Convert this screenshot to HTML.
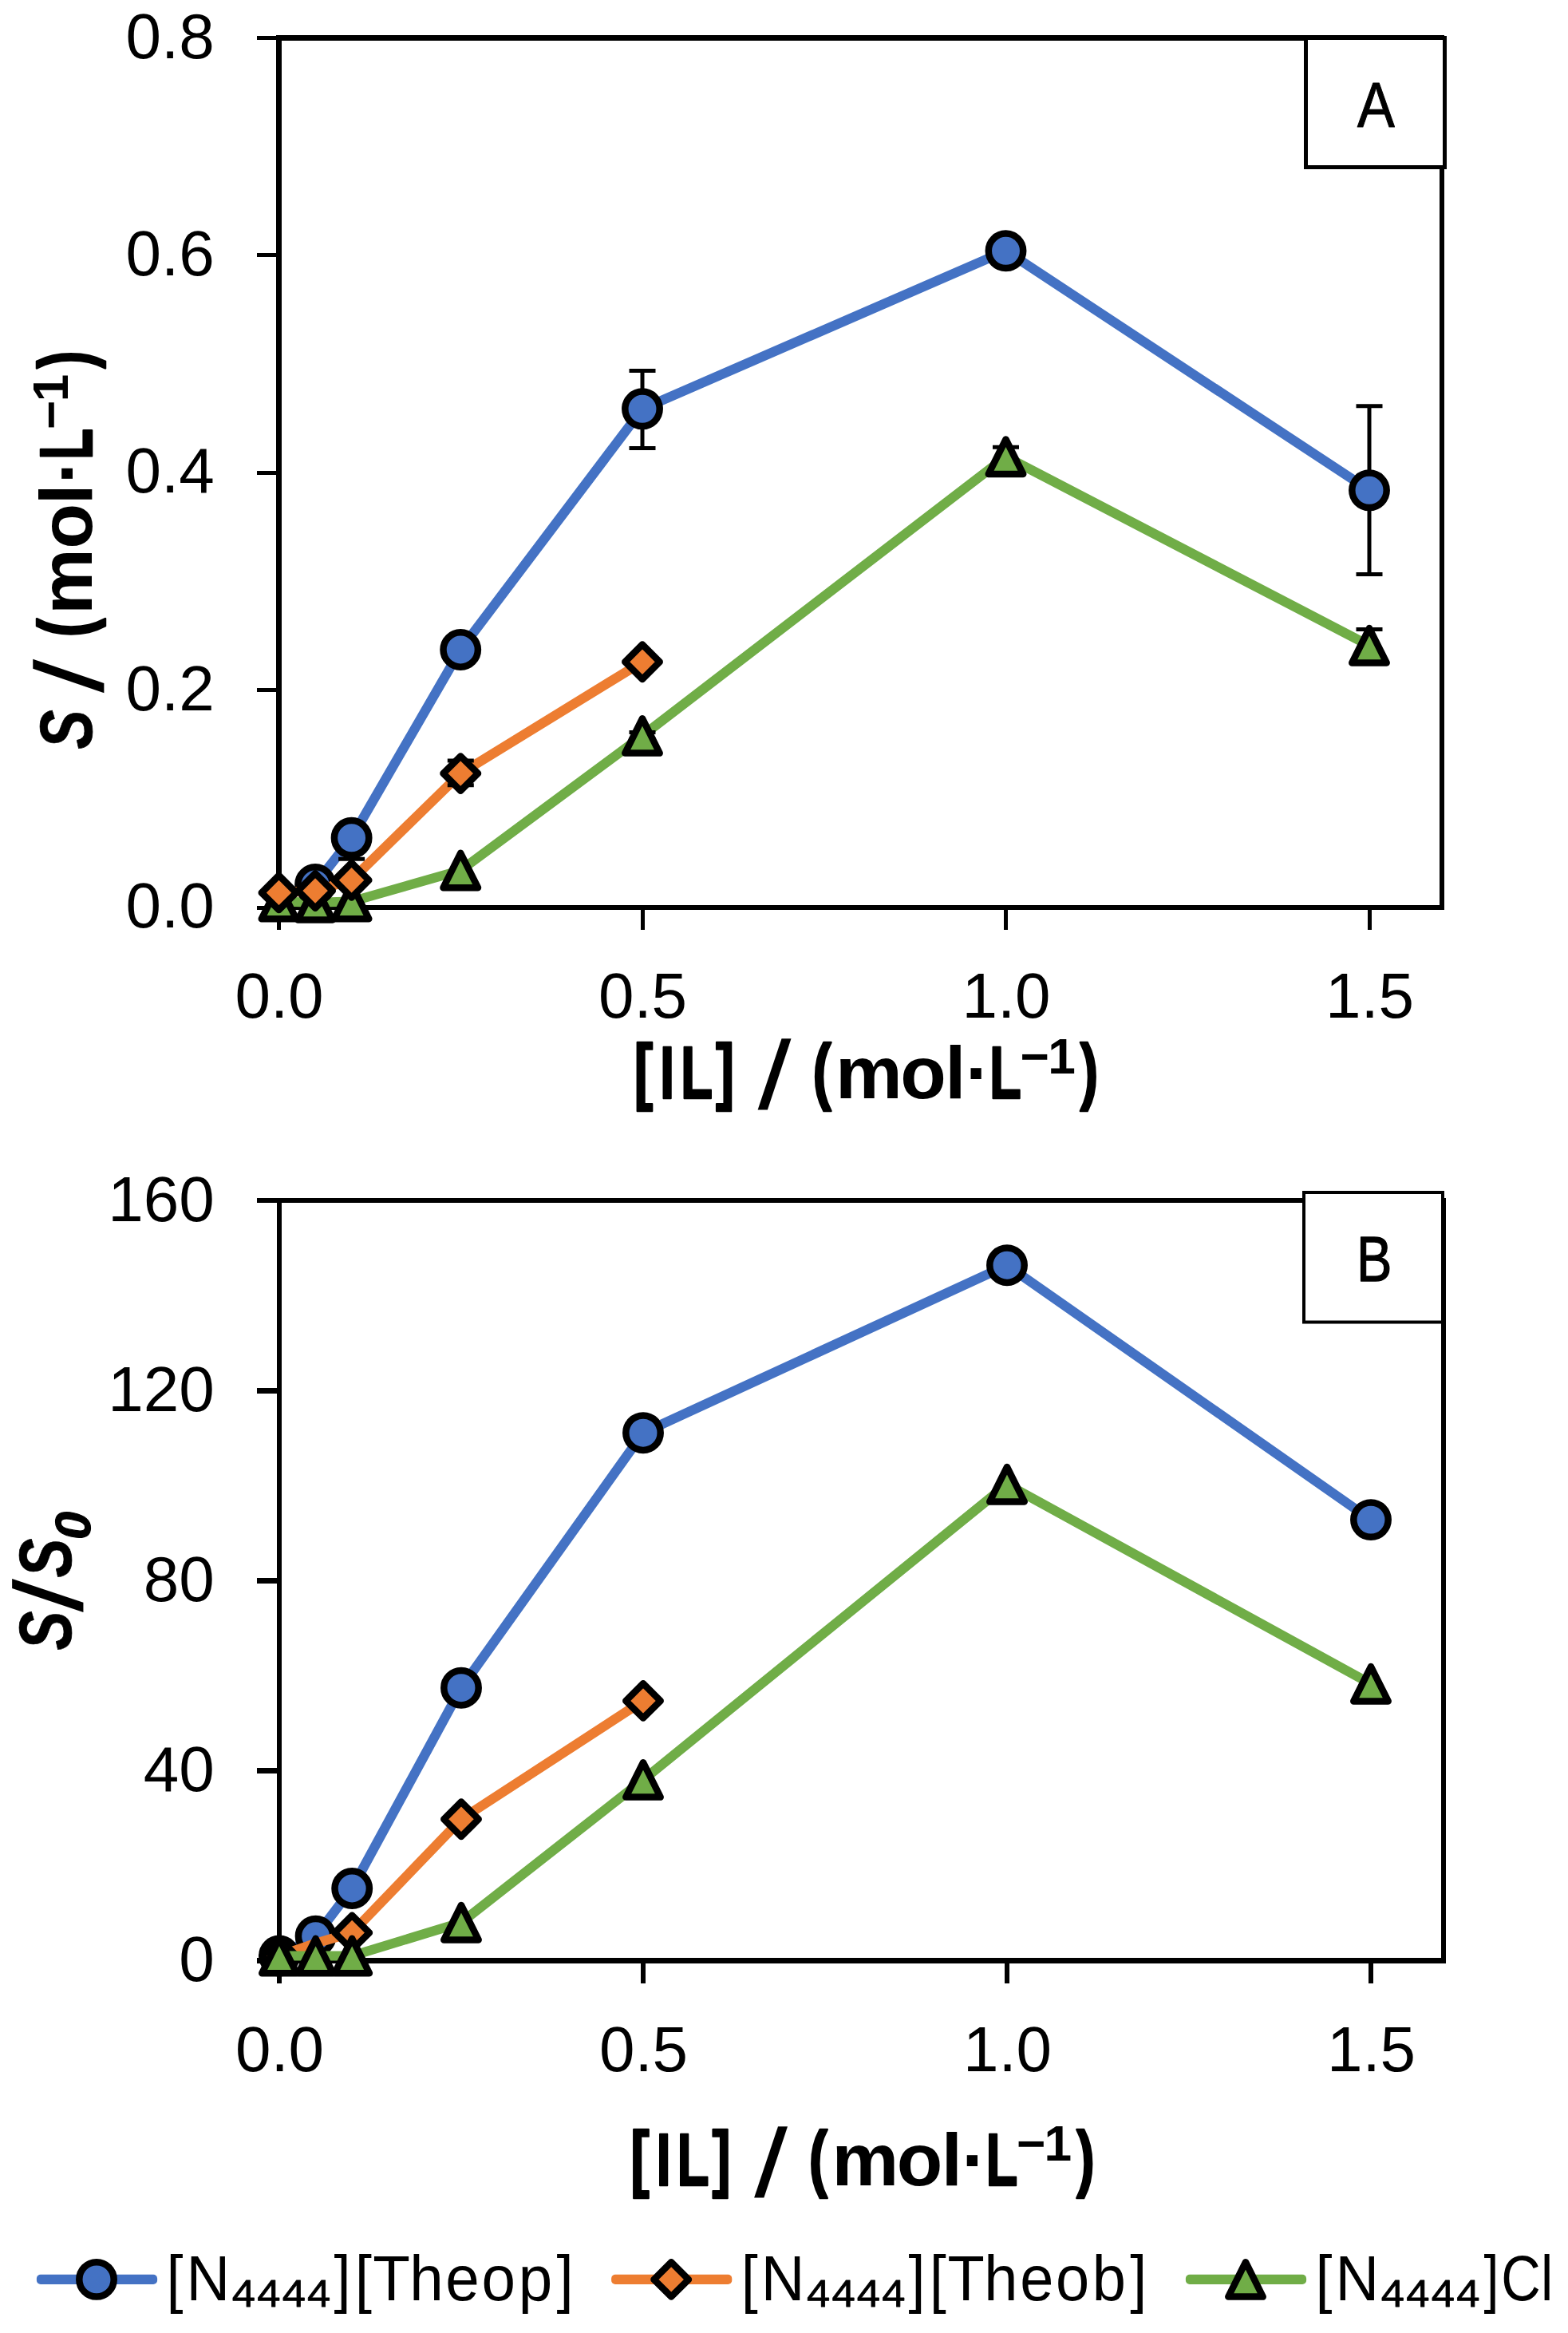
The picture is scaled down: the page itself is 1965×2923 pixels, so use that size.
<!DOCTYPE html>
<html><head><meta charset="utf-8"><title>Solubility charts</title>
<style>html,body{margin:0;padding:0;background:#fff}svg{display:block}
text{font-family:"Liberation Sans",sans-serif;fill:#000;font-kerning:none}</style></head>
<body><svg width="1965" height="2923" viewBox="0 0 1965 2923">
<rect width="1965" height="2923" fill="#fff"/>
<!-- chart A -->
<path d="M346 44H353V1140H346ZM346 44H1810V51H346ZM1804 44H1810V1140H1804ZM346 1134H1810V1140H346ZM347 1139H352V1165H347ZM802.5 1139H807.5V1165H802.5ZM1258 1139H1263V1165H1258ZM1713.5 1139H1718.5V1165H1713.5ZM322 45H347V50H322ZM322 317H347V322H322ZM322 589.5H347V594.5H322ZM322 862H347V867H322ZM322 1134.5H347V1139.5H322Z" fill="#000" shape-rendering="crispEdges"/>
<path d="M349.5 1129.5L395.1 1130.7L440.6 1129.5L577.2 1090.5L805.0 921.9L1260.5 572.2L1716.0 808.8" fill="none" stroke="#70AD47" stroke-width="12.1" stroke-linejoin="round" stroke-linecap="butt"/>
<path d="M805.0 917.6V926.2M788.5 917.6H821.5M788.5 926.2H821.5" fill="none" stroke="#000" stroke-width="5.0"/>
<path d="M1260.5 560.2V584.0M1244.0 560.2H1277.0M1244.0 584.0H1277.0" fill="none" stroke="#000" stroke-width="5.0"/>
<path d="M1716.0 788.5V829.0M1699.5 788.5H1732.5M1699.5 829.0H1732.5" fill="none" stroke="#000" stroke-width="5.0"/>
<path d="M349.5 1107.8L371.2 1151.2L327.8 1151.2Z" fill="#70AD47" stroke="#000" stroke-width="8.5" stroke-linejoin="round"/>
<path d="M395.1 1109.0L416.8 1152.4L373.4 1152.4Z" fill="#70AD47" stroke="#000" stroke-width="8.5" stroke-linejoin="round"/>
<path d="M440.6 1107.8L462.3 1151.2L418.9 1151.2Z" fill="#70AD47" stroke="#000" stroke-width="8.5" stroke-linejoin="round"/>
<path d="M577.2 1068.8L599.0 1112.2L555.5 1112.2Z" fill="#70AD47" stroke="#000" stroke-width="8.5" stroke-linejoin="round"/>
<path d="M805.0 900.2L826.7 943.6L783.3 943.6Z" fill="#70AD47" stroke="#000" stroke-width="8.5" stroke-linejoin="round"/>
<path d="M1260.5 550.5L1282.2 593.9L1238.8 593.9Z" fill="#70AD47" stroke="#000" stroke-width="8.5" stroke-linejoin="round"/>
<path d="M1716.0 787.1L1737.7 830.5L1694.3 830.5Z" fill="#70AD47" stroke="#000" stroke-width="8.5" stroke-linejoin="round"/>
<path d="M395.1 1108.0L440.6 1049.8L577.2 814.0L805.0 512.3L1260.5 314.3L1716.0 614.3" fill="none" stroke="#4472C4" stroke-width="12.1" stroke-linejoin="round" stroke-linecap="butt"/>
<path d="M440.6 1040.0V1076.3M424.1 1076.3H457.1" fill="none" stroke="#000" stroke-width="5.0"/>
<path d="M805.0 464.4V561.4M788.5 464.4H821.5M788.5 561.4H821.5" fill="none" stroke="#000" stroke-width="5.0"/>
<path d="M1716.0 508.7V719.4M1699.5 508.7H1732.5M1699.5 719.4H1732.5" fill="none" stroke="#000" stroke-width="5.0"/>
<circle cx="395.1" cy="1108.0" r="21.7" fill="#4472C4" stroke="#000" stroke-width="8.5"/>
<circle cx="440.6" cy="1049.8" r="21.7" fill="#4472C4" stroke="#000" stroke-width="8.5"/>
<circle cx="577.2" cy="814.0" r="21.7" fill="#4472C4" stroke="#000" stroke-width="8.5"/>
<circle cx="805.0" cy="512.3" r="21.7" fill="#4472C4" stroke="#000" stroke-width="8.5"/>
<circle cx="1260.5" cy="314.3" r="21.7" fill="#4472C4" stroke="#000" stroke-width="8.5"/>
<circle cx="1716.0" cy="614.3" r="21.7" fill="#4472C4" stroke="#000" stroke-width="8.5"/>
<path d="M349.5 1118.4L395.1 1116.0L440.6 1102.7L577.2 969.1L805.0 829.3" fill="none" stroke="#ED7D31" stroke-width="12.1" stroke-linejoin="round" stroke-linecap="butt"/>
<path d="M577.2 953.0V983.7M560.8 953.0H593.8M560.8 983.7H593.8" fill="none" stroke="#000" stroke-width="5.0"/>
<path d="M349.5 1096.7L371.2 1118.4L349.5 1140.1L327.8 1118.4Z" fill="#ED7D31" stroke="#000" stroke-width="8.5" stroke-linejoin="round"/>
<path d="M395.1 1094.3L416.8 1116.0L395.1 1137.7L373.4 1116.0Z" fill="#ED7D31" stroke="#000" stroke-width="8.5" stroke-linejoin="round"/>
<path d="M440.6 1081.0L462.3 1102.7L440.6 1124.4L418.9 1102.7Z" fill="#ED7D31" stroke="#000" stroke-width="8.5" stroke-linejoin="round"/>
<path d="M577.2 947.4L599.0 969.1L577.2 990.8L555.5 969.1Z" fill="#ED7D31" stroke="#000" stroke-width="8.5" stroke-linejoin="round"/>
<path d="M805.0 807.6L826.7 829.3L805.0 851.0L783.3 829.3Z" fill="#ED7D31" stroke="#000" stroke-width="8.5" stroke-linejoin="round"/>
<rect x="1636.5" y="47.5" width="174" height="162" fill="#fff" stroke="#000" stroke-width="5"/>
<text transform="translate(0,159.00) scale(0.8766,1)" x="1940.56" font-size="80" stroke="#000" stroke-width="1" vector-effect="non-scaling-stroke" stroke-linejoin="round">A</text>
<text x="268.7" y="72.6" font-size="80" text-anchor="end">0.8</text>
<text x="268.7" y="345.0" font-size="80" text-anchor="end">0.6</text>
<text x="268.7" y="617.4" font-size="80" text-anchor="end">0.4</text>
<text x="268.7" y="889.9" font-size="80" text-anchor="end">0.2</text>
<text x="268.7" y="1162.3" font-size="80" text-anchor="end">0.0</text>
<text x="350.0" y="1274.8" font-size="80" text-anchor="middle">0.0</text>
<text x="805.5" y="1274.8" font-size="80" text-anchor="middle">0.5</text>
<text x="1261.0" y="1274.8" font-size="80" text-anchor="middle">1.0</text>
<text x="1716.5" y="1274.8" font-size="80" text-anchor="middle">1.5</text>
<text transform="translate(0,1373.00) scale(0.7638,1)" x="1040.18" font-size="93.5" font-weight="bold" stroke="#000" stroke-width="2.2" vector-effect="non-scaling-stroke" stroke-linejoin="round">[</text>
<text transform="translate(0,1375.50) scale(0.7030,1)" x="1176.41 1213.35" font-size="93.5" font-weight="bold" stroke="#000" stroke-width="2.2" vector-effect="non-scaling-stroke" stroke-linejoin="round">IL</text>
<text transform="translate(0,1373.00) scale(0.7476,1)" x="1199.84" font-size="93.5" font-weight="bold" stroke="#000" stroke-width="2.2" vector-effect="non-scaling-stroke" stroke-linejoin="round">]</text>
<text transform="translate(949.00,1388.30) matrix(1.1044,0,-0.2187,1.2812,0,0)" font-size="93.5" font-weight="bold">/</text>
<text transform="translate(0,1373.00) scale(0.7579,1)" x="1343.38" font-size="93.5" font-weight="bold" stroke="#000" stroke-width="2.2" vector-effect="non-scaling-stroke" stroke-linejoin="round">(</text>
<text transform="translate(0,1375.50) scale(1.0071,1)" x="1039.75 1120.42 1175.90 1201.40" font-size="93.5" font-weight="bold">mol·</text>
<text transform="translate(0,1375.50) scale(0.6982,1)" x="1776.12" font-size="93.5" font-weight="bold" stroke="#000" stroke-width="2.2" vector-effect="non-scaling-stroke" stroke-linejoin="round">L</text>
<text transform="translate(0,1344.80) scale(0.9915,1)" x="1289.49 1324.47" font-size="62.8" font-weight="bold">−1</text>
<text transform="translate(0,1373.00) scale(0.7352,1)" x="1841.10" font-size="93.5" font-weight="bold" stroke="#000" stroke-width="2.2" vector-effect="non-scaling-stroke" stroke-linejoin="round">)</text>
<text transform="translate(115.00,0) rotate(-90) scale(0.7932,1)" x="-1183.60" font-size="93.5" font-weight="bold" font-style="italic" stroke="#000" stroke-width="0.6" vector-effect="non-scaling-stroke" stroke-linejoin="round">S</text>
<text transform="translate(130.00,868.20) rotate(-90) translate(-0.58,-2.40) matrix(1.1044,0,-0.2273,1.2812,0,0)" font-size="93.5" font-weight="bold">/</text>
<text transform="translate(112.50,0) rotate(-90) scale(0.7541,1)" x="-1058.46" font-size="93.5" font-weight="bold" stroke="#000" stroke-width="2.2" vector-effect="non-scaling-stroke" stroke-linejoin="round">(</text>
<text transform="translate(115.00,0) rotate(-90) scale(0.9955,1)" x="-773.49 -690.99 -635.19 -609.09" font-size="93.5" font-weight="bold">mol·</text>
<text transform="translate(115.00,0) rotate(-90) scale(0.6836,1)" x="-842.73" font-size="93.5" font-weight="bold" stroke="#000" stroke-width="2.2" vector-effect="non-scaling-stroke" stroke-linejoin="round">L</text>
<text transform="translate(85.10,0) rotate(-90) scale(0.9899,1)" x="-543.62 -508.43" font-size="62.8" font-weight="bold">−1</text>
<text transform="translate(112.50,0) rotate(-90) scale(0.7124,1)" x="-648.29" font-size="93.5" font-weight="bold" stroke="#000" stroke-width="2.2" vector-effect="non-scaling-stroke" stroke-linejoin="round">)</text>
<!-- chart B -->
<path d="M347 1501H353V2460H347ZM347 1501H1812V1507H347ZM1806 1501H1812V2460H1806ZM347 2453H1812V2460H347ZM347 2459H353V2485H347ZM803 2459H809V2485H803ZM1259 2459H1265V2485H1259ZM1715 2459H1721V2485H1715ZM322 1501H348V1507H322ZM322 1739H348V1746H322ZM322 1977H348V1984H322ZM322 2215H348V2222H322ZM322 2453H348V2460H322Z" fill="#000" shape-rendering="crispEdges"/>
<path d="M350.0 2450.5L395.6 2425.8L441.2 2366.0L578.0 2114.7L806.0 1795.2L1262.0 1585.2L1718.0 1904.1" fill="none" stroke="#4472C4" stroke-width="12.1" stroke-linejoin="round" stroke-linecap="butt"/>
<circle cx="350.0" cy="2450.5" r="21.7" fill="#4472C4" stroke="#000" stroke-width="8.5"/>
<circle cx="395.6" cy="2425.8" r="21.7" fill="#4472C4" stroke="#000" stroke-width="8.5"/>
<circle cx="441.2" cy="2366.0" r="21.7" fill="#4472C4" stroke="#000" stroke-width="8.5"/>
<circle cx="578.0" cy="2114.7" r="21.7" fill="#4472C4" stroke="#000" stroke-width="8.5"/>
<circle cx="806.0" cy="1795.2" r="21.7" fill="#4472C4" stroke="#000" stroke-width="8.5"/>
<circle cx="1262.0" cy="1585.2" r="21.7" fill="#4472C4" stroke="#000" stroke-width="8.5"/>
<circle cx="1718.0" cy="1904.1" r="21.7" fill="#4472C4" stroke="#000" stroke-width="8.5"/>
<path d="M350.0 2450.5L395.6 2434.8L441.2 2421.4L578.0 2279.3L806.0 2130.9" fill="none" stroke="#ED7D31" stroke-width="12.1" stroke-linejoin="round" stroke-linecap="butt"/>
<path d="M350.0 2428.8L371.7 2450.5L350.0 2472.2L328.3 2450.5Z" fill="#ED7D31" stroke="#000" stroke-width="8.5" stroke-linejoin="round"/>
<path d="M441.2 2399.7L462.9 2421.4L441.2 2443.1L419.5 2421.4Z" fill="#ED7D31" stroke="#000" stroke-width="8.5" stroke-linejoin="round"/>
<path d="M578.0 2257.6L599.7 2279.3L578.0 2301.0L556.3 2279.3Z" fill="#ED7D31" stroke="#000" stroke-width="8.5" stroke-linejoin="round"/>
<path d="M806.0 2109.2L827.7 2130.9L806.0 2152.6L784.3 2130.9Z" fill="#ED7D31" stroke="#000" stroke-width="8.5" stroke-linejoin="round"/>
<path d="M350.0 2450.5L395.6 2450.5L441.2 2450.5L578.0 2408.7L806.0 2229.9L1262.0 1859.7L1718.0 2109.8" fill="none" stroke="#70AD47" stroke-width="12.1" stroke-linejoin="round" stroke-linecap="butt"/>
<path d="M350.0 2428.8L371.7 2472.2L328.3 2472.2Z" fill="#70AD47" stroke="#000" stroke-width="8.5" stroke-linejoin="round"/>
<path d="M395.6 2428.8L417.3 2472.2L373.9 2472.2Z" fill="#70AD47" stroke="#000" stroke-width="8.5" stroke-linejoin="round"/>
<path d="M441.2 2428.8L462.9 2472.2L419.5 2472.2Z" fill="#70AD47" stroke="#000" stroke-width="8.5" stroke-linejoin="round"/>
<path d="M578.0 2387.0L599.7 2430.4L556.3 2430.4Z" fill="#70AD47" stroke="#000" stroke-width="8.5" stroke-linejoin="round"/>
<path d="M806.0 2208.2L827.7 2251.6L784.3 2251.6Z" fill="#70AD47" stroke="#000" stroke-width="8.5" stroke-linejoin="round"/>
<path d="M1262.0 1838.0L1283.7 1881.4L1240.3 1881.4Z" fill="#70AD47" stroke="#000" stroke-width="8.5" stroke-linejoin="round"/>
<path d="M1718.0 2088.1L1739.7 2131.5L1696.3 2131.5Z" fill="#70AD47" stroke="#000" stroke-width="8.5" stroke-linejoin="round"/>
<rect x="1634" y="1494" width="174" height="162.5" fill="#fff" stroke="#000" stroke-width="4"/>
<path d="M1806 1501H1812V1700H1806Z" fill="#000"/>
<text transform="translate(0,1605.00) scale(0.8338,1)" x="2038.99" font-size="80" stroke="#000" stroke-width="1.2" vector-effect="non-scaling-stroke" stroke-linejoin="round">B</text>
<text x="268.7" y="1529.5" font-size="80" text-anchor="end">160</text>
<text x="268.7" y="1767.6" font-size="80" text-anchor="end">120</text>
<text x="268.7" y="2005.6" font-size="80" text-anchor="end">80</text>
<text x="268.7" y="2243.7" font-size="80" text-anchor="end">40</text>
<text x="268.7" y="2481.8" font-size="80" text-anchor="end">0</text>
<text x="350.5" y="2594.9" font-size="80" text-anchor="middle">0.0</text>
<text x="806.5" y="2594.9" font-size="80" text-anchor="middle">0.5</text>
<text x="1262.5" y="2594.9" font-size="80" text-anchor="middle">1.0</text>
<text x="1718.5" y="2594.9" font-size="80" text-anchor="middle">1.5</text>
<text transform="translate(0,2735.30) scale(0.7638,1)" x="1034.16" font-size="93.5" font-weight="bold" stroke="#000" stroke-width="2.2" vector-effect="non-scaling-stroke" stroke-linejoin="round">[</text>
<text transform="translate(0,2737.80) scale(0.7030,1)" x="1169.87 1206.80" font-size="93.5" font-weight="bold" stroke="#000" stroke-width="2.2" vector-effect="non-scaling-stroke" stroke-linejoin="round">IL</text>
<text transform="translate(0,2735.30) scale(0.7476,1)" x="1193.69" font-size="93.5" font-weight="bold" stroke="#000" stroke-width="2.2" vector-effect="non-scaling-stroke" stroke-linejoin="round">]</text>
<text transform="translate(944.40,2750.60) matrix(1.1044,0,-0.2187,1.2812,0,0)" font-size="93.5" font-weight="bold">/</text>
<text transform="translate(0,2735.30) scale(0.7579,1)" x="1337.31" font-size="93.5" font-weight="bold" stroke="#000" stroke-width="2.2" vector-effect="non-scaling-stroke" stroke-linejoin="round">(</text>
<text transform="translate(0,2737.80) scale(1.0071,1)" x="1035.19 1115.85 1171.34 1196.84" font-size="93.5" font-weight="bold">mol·</text>
<text transform="translate(0,2737.80) scale(0.6982,1)" x="1769.53" font-size="93.5" font-weight="bold" stroke="#000" stroke-width="2.2" vector-effect="non-scaling-stroke" stroke-linejoin="round">L</text>
<text transform="translate(0,2707.10) scale(0.9915,1)" x="1284.85 1319.83" font-size="62.8" font-weight="bold">−1</text>
<text transform="translate(0,2735.30) scale(0.7352,1)" x="1834.84" font-size="93.5" font-weight="bold" stroke="#000" stroke-width="2.2" vector-effect="non-scaling-stroke" stroke-linejoin="round">)</text>
<text transform="translate(89.00,0) rotate(-90) scale(0.7915,1)" x="-2612.31" font-size="93.5" font-weight="bold" font-style="italic" stroke="#000" stroke-width="0.6" vector-effect="non-scaling-stroke" stroke-linejoin="round">S</text>
<text transform="translate(104.10,2020.00) rotate(-90) translate(-0.60,-2.40) matrix(1.1044,0,-0.2202,1.2826,0,0)" font-size="93.5" font-weight="bold">/</text>
<text transform="translate(89.00,0) rotate(-90) scale(0.7899,1)" x="-2502.46" font-size="93.5" font-weight="bold" font-style="italic" stroke="#000" stroke-width="0.6" vector-effect="non-scaling-stroke" stroke-linejoin="round">S</text>
<text transform="translate(113.00,0) rotate(-90) scale(0.9998,1)" x="-1929.28" font-size="63" font-weight="bold" font-style="italic" stroke="#000" stroke-width="1.2" vector-effect="non-scaling-stroke" stroke-linejoin="round">0</text>
<!-- legend -->
<rect x="45.9" y="2849.8" width="151.2" height="12.2" rx="5" fill="#4472C4"/>
<circle cx="121.0" cy="2855.9" r="21.7" fill="#4472C4" stroke="#000" stroke-width="8.5"/>
<text transform="translate(0,2881.50) scale(0.9458,1)" x="220.44 246.90" font-size="80">[N</text>
<text transform="translate(0,2890.00) scale(1.0866,1)" x="267.54 296.50 325.46 354.43" font-size="48.4" stroke="#000" stroke-width="0.8" vector-effect="non-scaling-stroke" stroke-linejoin="round">4444</text>
<text transform="translate(0,2881.50) scale(0.9552,1)" x="438.10 465.53 489.06 537.43 584.48 631.83 680.29 730.14" font-size="80">][Theop]</text>
<rect x="766.1" y="2849.8" width="151.2" height="12.2" rx="5" fill="#ED7D31"/>
<path d="M841.2 2834.2L862.9 2855.9L841.2 2877.6L819.5 2855.9Z" fill="#ED7D31" stroke="#000" stroke-width="8.5" stroke-linejoin="round"/>
<text transform="translate(0,2881.50) scale(0.9458,1)" x="981.94 1008.40" font-size="80">[N</text>
<text transform="translate(0,2890.00) scale(1.0866,1)" x="930.37 959.33 988.29 1017.26" font-size="48.4" stroke="#000" stroke-width="0.8" vector-effect="non-scaling-stroke" stroke-linejoin="round">4444</text>
<text transform="translate(0,2881.50) scale(0.9480,1)" x="1200.94 1228.77 1252.51 1300.96 1348.42 1395.49 1443.96 1494.03" font-size="80">][Theob]</text>
<rect x="1485.9" y="2849.8" width="151.2" height="12.2" rx="5" fill="#70AD47"/>
<path d="M1561.0 2834.2L1582.7 2877.6L1539.3 2877.6Z" fill="#70AD47" stroke="#000" stroke-width="8.5" stroke-linejoin="round"/>
<text transform="translate(0,2881.50) scale(0.9458,1)" x="1743.02 1769.48" font-size="80">[N</text>
<text transform="translate(0,2890.00) scale(1.0866,1)" x="1592.83 1621.79 1650.76 1679.72" font-size="48.4" stroke="#000" stroke-width="0.8" vector-effect="non-scaling-stroke" stroke-linejoin="round">4444</text>
<text transform="translate(0,2881.50) scale(0.8561,1)" x="2171.96 2197.46 2255.50" font-size="80">]Cl</text>
</svg></body></html>
